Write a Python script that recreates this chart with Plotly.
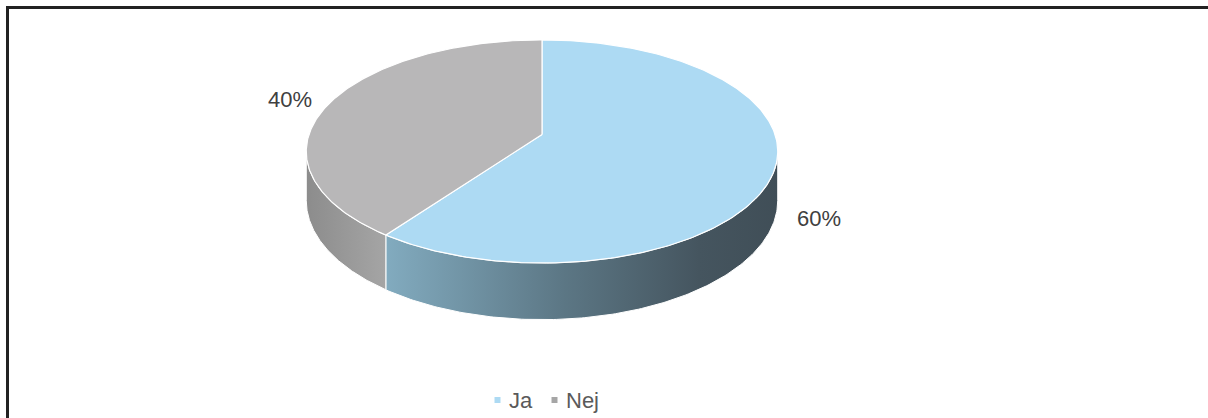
import numpy as np
import plotly.graph_objects as go

# Survey answers
labels = ["Ja", "Nej"]
values = [60, 40]

top_colors = ["#ADDAF3", "#B8B7B8"]
side_scales = [
    [[0, "#82ABBF"], [0.45, "#5C7785"], [0.8, "#45555F"], [1, "#404E57"]],
    [[0, "#8C8C8C"], [1, "#A5A5A5"]],
]
legend_colors = ["#ADDAF3", "#A6A6A6"]

W, H = 1208, 418
# pie centre, radii, thickness and perspective strength (screen pixels)
cx, cy, R, Ry, D, k = 542, 134.5, 233, 109, 48, 0.152


def pt(t, drop=0.0):
    u, v = np.cos(t), np.sin(t)
    s = 1.0 / (1.0 + k * v)
    return cx + R * u * s, cy - Ry * v * s + drop * s


total = sum(values)
fig = go.Figure()

# slice angles: start at 12 o'clock, first slice runs clockwise
angles = []
start = np.pi / 2
for v in values:
    sweep = 2 * np.pi * v / total
    angles.append((start - sweep, start))
    start -= sweep

# side walls (front part of the rim only)
edge = np.arcsin(k)
vis_a, vis_b = np.pi + edge, 2 * np.pi - edge
for (a0, a1), scale in zip(angles, side_scales):
    lo, hi = a0 % (2 * np.pi), a1 % (2 * np.pi)
    if hi <= lo:
        hi += 2 * np.pi
    lo2, hi2 = max(lo, vis_a), min(hi, vis_b)
    if hi2 <= lo2:
        continue
    t = np.linspace(lo2, hi2, 160)
    xt, yt = pt(t)
    xb, yb = pt(t[::-1], D)
    xs = np.concatenate([xt, xb, xt[:1]])
    ys = np.concatenate([yt, yb, yt[:1]])
    fig.add_trace(go.Scatter(
        x=xs, y=ys, mode="lines", fill="toself",
        line=dict(color="white", width=1),
        fillgradient=dict(type="horizontal", colorscale=scale),
        hoverinfo="skip", showlegend=False,
    ))

# top faces
for (a0, a1), col in zip(angles, top_colors):
    t = np.linspace(a0, a1, 240)
    x, y = pt(t)
    xs = np.concatenate([[cx], x, [cx]])
    ys = np.concatenate([[cy], y, [cy]])
    fig.add_trace(go.Scatter(
        x=xs, y=ys, mode="lines", fill="toself", fillcolor=col,
        line=dict(color="white", width=1.2),
        hoverinfo="skip", showlegend=False,
    ))

# percentage labels
for (a0, a1), v in zip(angles, values):
    mid = (a0 + a1) / 2
    u, w = np.cos(mid), np.sin(mid)
    s = 1.0 / (1.0 + k * w)
    lx = cx + 1.19 * R * u * s
    ly = cy - 1.08 * Ry * w * s
    if w < 0:
        ly += 0.9 * D * s
    fig.add_annotation(
        x=lx, y=ly, text=f"{v / total:.0%}", showarrow=False,
        font=dict(family="Liberation Sans, Arial", size=22, color="#404040"),
    )

# legend row under the pie: square swatch, then the name
leg_x = [497.5, 554.5]
for name, col, lx in zip(labels, legend_colors, leg_x):
    fig.add_trace(go.Scatter(
        x=[lx], y=[400], mode="markers", name=name,
        marker=dict(symbol="square", size=6, color=col),
        hoverinfo="skip", showlegend=False, cliponaxis=False,
    ))
    fig.add_annotation(
        x=lx + 9, y=400, text=name, showarrow=False,
        xanchor="left", yanchor="middle",
        font=dict(family="Liberation Sans, Arial", size=22, color="#5A5A5A"),
    )

# frame
fig.add_shape(type="path", path=f"M 7.5 {H} L 7.5 7.5 L {W} 7.5",
              line=dict(color="#222222", width=3))

fig.update_layout(
    width=W, height=H,
    margin=dict(l=0, r=0, t=0, b=0),
    paper_bgcolor="white", plot_bgcolor="white",
    xaxis=dict(range=[0, W], visible=False, fixedrange=True),
    yaxis=dict(range=[H, 0], visible=False, fixedrange=True),
    showlegend=False,
)

fig.write_html("out.html")
